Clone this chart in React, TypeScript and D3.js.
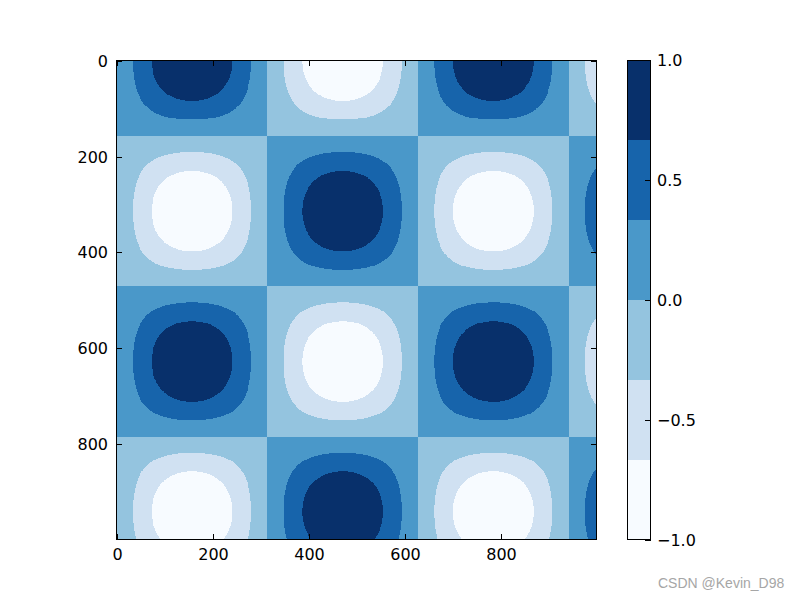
import React from "react";
import * as d3 from "d3";

// Data: Z = sin(x) * cos(y) on a 1000 x 1000 grid, x, y = linspace(0, 10, 1000)
const N = 1000;
const xs: number[] = d3.range(N).map((i) => (i * 10) / (N - 1));
const ys: number[] = d3.range(N).map((i) => (i * 10) / (N - 1));
const sinX: number[] = xs.map((v) => Math.sin(v));
const cosY: number[] = ys.map((v) => Math.cos(v));

const axisTicks: number[] = [0, 200, 400, 600, 800];
const cbarTicks: number[] = [-1.0, -0.5, 0.0, 0.5, 1.0];
// Blues colormap, 6 discrete colours
const binColors: string[] = ["#f7fbff", "#d0e1f2", "#94c4df", "#4a98c9", "#1764ab", "#08306b"];

const AX = { x0: 116, x1: 597, y0: 60, y1: 540 };
const CB = { x0: 627, x1: 651, y0: 60, y1: 540 };
const FONT = "DejaVu Sans, sans-serif";
const TICK = 6;

function fmt(v: number) {
  const s = v.toFixed(1);
  return s.replace("-", "\u2212");
}

export default function App() {
  const xScale = d3.scaleLinear().domain([-0.5, N - 0.5]).range([AX.x0 + 0.5, AX.x1 - 0.5]);
  const yScale = d3.scaleLinear().domain([-0.5, N - 0.5]).range([AX.y0 + 0.5, AX.y1 - 0.5]);

  let zmin = Infinity,
    zmax = -Infinity;
  for (const s of sinX)
    for (const c of [d3.min(cosY)!, d3.max(cosY)!]) {
      zmin = Math.min(zmin, s * c);
      zmax = Math.max(zmax, s * c);
    }
  const norm = d3.scaleLinear().domain([zmin, zmax]).range([0, 1]);
  const bin = (z: number) => Math.max(0, Math.min(5, Math.floor(norm(z) * 6)));

  const wpx = AX.x1 - AX.x0;
  const hpx = AX.y1 - AX.y0;
  const rects: JSX.Element[] = [];
  for (let py = 0; py < hpx; py++) {
    const row = Math.min(N - 1, Math.floor(yScale.invert(AX.y0 + py + 0.5) + 0.5));
    const cy = cosY[Math.max(0, row)];
    let start = 0;
    let cur = -1;
    for (let px = 0; px <= wpx; px++) {
      let b = -2;
      if (px < wpx) {
        const col = Math.max(0, Math.min(N - 1, Math.floor(xScale.invert(AX.x0 + px + 0.5) + 0.5)));
        b = bin(sinX[col] * cy);
      }
      if (b !== cur) {
        if (cur >= 0)
          rects.push(
            <rect key={`${py}-${start}`} x={AX.x0 + start} y={AX.y0 + py} width={px - start} height={1} fill={binColors[cur]} />
          );
        cur = b;
        start = px;
      }
    }
  }

  const cbScale = d3.scaleLinear().domain([-1, 1]).range([CB.y1, CB.y0]);

  return (
    <svg width={800} height={600} style={{ position: "absolute", left: 0, top: 0, background: "#fff" }} fontFamily={FONT}>
      <rect x={0} y={0} width={800} height={600} fill="#fff" />
      <g shapeRendering="crispEdges">{rects}</g>
      {/* axes frame */}
      <rect x={AX.x0 + 0.5} y={AX.y0 + 0.5} width={AX.x1 - AX.x0 - 1} height={AX.y1 - AX.y0 - 1} fill="none" stroke="#000" strokeWidth={1} />
      {axisTicks.map((t) => {
        const x = Math.round(xScale(t)) + 0.5;
        return (
          <g key={`xt${t}`}>
            <line x1={x} x2={x} y1={AX.y1} y2={AX.y1 - TICK} stroke="#000" />
            <line x1={x} x2={x} y1={AX.y0} y2={AX.y0 + TICK} stroke="#000" />
            <text x={x} y={AX.y1 + 20} textAnchor="middle" fontSize={16}>
              {t}
            </text>
          </g>
        );
      })}
      {axisTicks.map((t) => {
        const y = Math.round(yScale(t)) + 0.5;
        return (
          <g key={`yt${t}`}>
            <line x1={AX.x0} x2={AX.x0 + TICK} y1={y} y2={y} stroke="#000" />
            <line x1={AX.x1} x2={AX.x1 - TICK} y1={y} y2={y} stroke="#000" />
            <text x={AX.x0 - 8} y={y} textAnchor="end" dominantBaseline="central" fontSize={16}>
              {t}
            </text>
          </g>
        );
      })}
      {/* colorbar */}
      {binColors.map((c, i) => (
        <rect
          key={`cb${i}`}
          x={CB.x0}
          y={cbScale(-1 + ((i + 1) * 2) / 6)}
          width={CB.x1 - CB.x0}
          height={cbScale(-1 + (i * 2) / 6) - cbScale(-1 + ((i + 1) * 2) / 6)}
          fill={c}
          shapeRendering="crispEdges"
        />
      ))}
      <rect x={CB.x0 + 0.5} y={CB.y0 + 0.5} width={CB.x1 - CB.x0 - 1} height={CB.y1 - CB.y0 - 1} fill="none" stroke="#000" />
      {cbarTicks.map((t) => {
        const y = Math.round(cbScale(t)) + 0.5;
        return (
          <g key={`ct${t}`}>
            <line x1={CB.x1} x2={CB.x1 - TICK} y1={y} y2={y} stroke="#000" />
            <text x={CB.x1 + 6} y={y} dominantBaseline="central" fontSize={16}>
              {fmt(t)}
            </text>
          </g>
        );
      })}
      <text x={658} y={588} fontSize={14} fill="#a6a6a6" fontFamily="Liberation Sans, Arial, sans-serif">
        CSDN @Kevin_D98
      </text>
    </svg>
  );
}
